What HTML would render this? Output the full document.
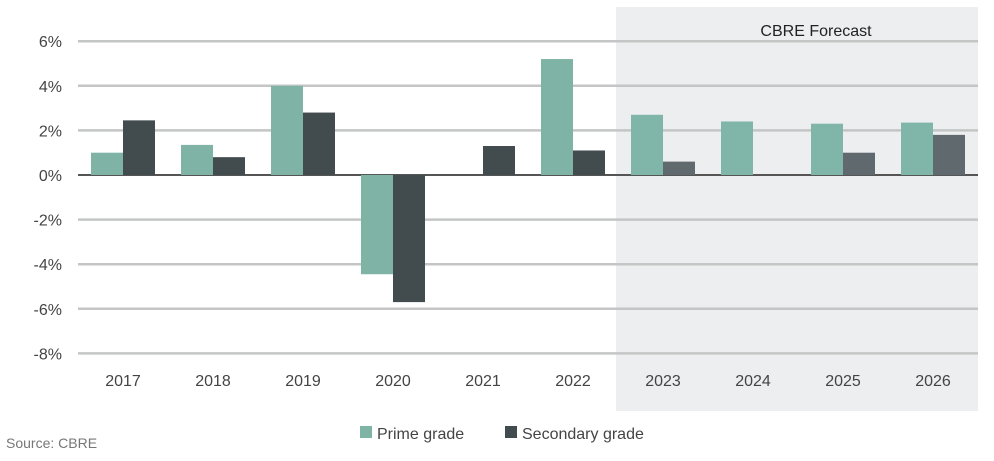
<!DOCTYPE html>
<html><head><style>
body{margin:0;background:#fff;}
svg text{font-family:"Liberation Sans",sans-serif;}
</style></head><body>
<svg id="chart" width="994" height="456" viewBox="0 0 994 456">
<rect x="616" y="7" width="362" height="404" fill="#eceeef"/>
<text x="816" y="36" font-size="16" text-anchor="middle" fill="#222">CBRE Forecast</text>
<g id="grid"></g><g id="bars"></g><g id="xlabels"></g>
<g>
<rect x="360" y="426" width="12" height="12" fill="#7fb3a5"/>
<text x="377" y="439" font-size="16" fill="#444">Prime grade</text>
<rect x="505" y="426" width="12" height="12" fill="#424c4e"/>
<text x="522" y="439" font-size="16" fill="#444">Secondary grade</text>
</g>
<text x="6" y="448" font-size="14" fill="#777">Source: CBRE</text>
</svg>
<script>
const categories=["2017","2018","2019","2020","2021","2022","2023","2024","2025","2026"];
const prime=[1.0,1.35,4.0,-4.45,0,5.2,2.7,2.4,2.3,2.35];
const secondary=[2.45,0.8,2.8,-5.7,1.3,1.1,0.6,0,1.0,1.8];
const forecast=[false,false,false,false,false,false,true,true,true,true];
const yTicks=[6,4,2,0,-2,-4,-6,-8];
const NS="http://www.w3.org/2000/svg";
function y(v){return 175-v*22.3;}
function xc(i){return 123+i*90;}
function mk(t,a,p){const e=document.createElementNS(NS,t);for(const k in a)e.setAttribute(k,a[k]);p.appendChild(e);return e;}
const grid=document.getElementById('grid'),bars=document.getElementById('bars'),xl=document.getElementById('xlabels');
yTicks.forEach(v=>{
 const l=mk('line',{x1:78,x2:978,y1:y(v),y2:y(v),stroke:v===0?'#555':'#c4c6c6','stroke-width':v===0?2:2.5},grid);
 
 
 const t=mk('text',{x:62,y:y(v)+6,'font-size':16,'text-anchor':'end',fill:'#444'},grid);
 t.textContent=v+'%';
 
 
});
categories.forEach((c,i)=>{
 const cx=xc(i);
 const pv=prime[i],sv=secondary[i];
 const p=mk('rect',{x:cx-32,y:Math.min(y(pv),y(0)),width:32,height:Math.abs(y(pv)-y(0)),fill:forecast[i]?'#80b5a9':'#7fb3a5'},bars);
 
 
 const s=mk('rect',{x:cx,y:Math.min(y(sv),y(0)),width:32,height:Math.abs(y(sv)-y(0)),fill:forecast[i]?'#606a6e':'#424c4e'},bars);
 
 
 const t=mk('text',{x:cx,y:386,'font-size':16,'text-anchor':'middle',fill:'#444'},xl);
 t.textContent=c;
 
 
});
</script>
</body></html>
